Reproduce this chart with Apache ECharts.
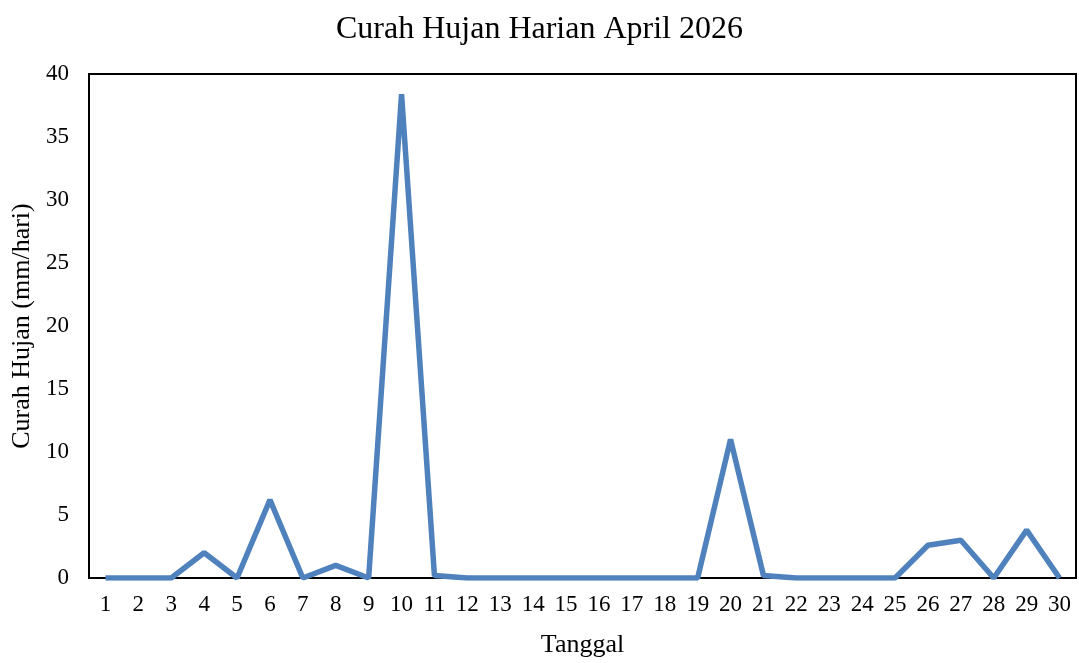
<!DOCTYPE html>
<html>
<head>
<meta charset="utf-8">
<script src="https://cdn.jsdelivr.net/npm/echarts@6/dist/echarts.min.js"></script>
<style>
  html, body { margin: 0; padding: 0; background: #fff; }
  #chart { width: 1079px; height: 663px; }
</style>
</head>
<body>
<div id="chart"></div>
<script>
// tanggal April 2026
var days = [];
for (var d = 1; d <= 30; d++) days.push(String(d));

// curah hujan harian (mm/hari)
var rainfall = [0, 0, 0, 2.0, 0, 6.2, 0, 1.0, 0, 38.4,
                0.2, 0, 0, 0, 0, 0, 0, 0, 0, 11.0,
                0.2, 0, 0, 0, 0, 2.6, 3.0, 0, 3.8, 0];

var serif = 'Liberation Serif, Times New Roman, serif';

var chart = echarts.init(document.getElementById('chart'));
chart.setOption({
  title: {
    text: 'Curah Hujan Harian April 2026',
    left: 'center',
    top: 9,
    textStyle: { fontFamily: serif, fontSize: 32, fontWeight: 'normal', color: '#000' }
  },
  grid: {
    left: 89,
    right: 3,
    top: 74,
    bottom: 79,
    show: true,
    borderColor: '#000',
    borderWidth: 2
  },
  xAxis: {
    type: 'category',
    data: days,
    boundaryGap: true,
    name: 'Tanggal',
    nameLocation: 'middle',
    nameGap: 54,
    nameTextStyle: { fontFamily: serif, fontSize: 26, color: '#000' },
    axisLine: { lineStyle: { color: '#000', width: 2 } },
    axisTick: { show: false },
    axisLabel: { fontFamily: serif, fontSize: 23, color: '#000', margin: 15, interval: 0 }
  },
  yAxis: {
    type: 'value',
    min: 0,
    max: 40,
    interval: 5,
    name: 'Curah Hujan (mm/hari)',
    nameLocation: 'middle',
    nameGap: 54,
    nameTextStyle: { fontFamily: serif, fontSize: 26, color: '#000' },
    axisLine: { show: true, lineStyle: { color: '#000', width: 2 } },
    axisTick: { show: false },
    splitLine: { show: false },
    axisLabel: { fontFamily: serif, fontSize: 23, color: '#000', margin: 20 }
  },
  series: [{
    type: 'line',
    data: rainfall,
    showSymbol: false,
    symbol: 'none',
    lineStyle: { color: '#4f81bd', width: 5.5 },
    itemStyle: { color: '#4f81bd' }
  }]
});
</script>
</body>
</html>
